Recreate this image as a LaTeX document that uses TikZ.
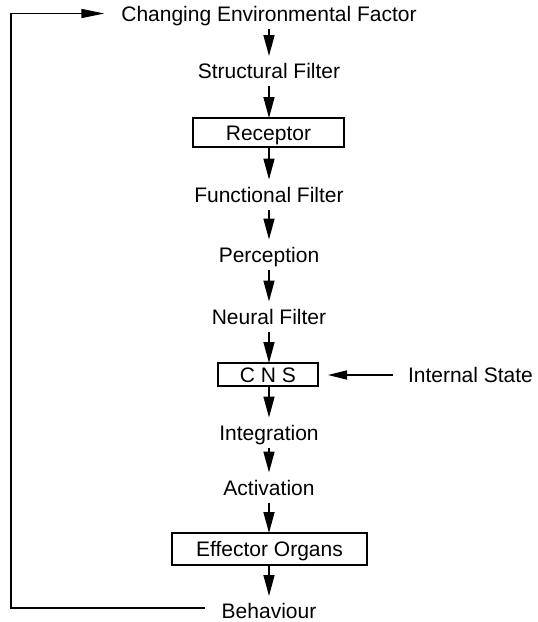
\documentclass[tikz,border=0pt]{standalone}
\usepackage{fontspec}
\setmainfont{Liberation Sans}
\usetikzlibrary{arrows.meta,calc}
\begin{document}
\begin{tikzpicture}[x=1pt,y=-1pt,
  lbl/.style={inner sep=0pt, outer xsep=0pt, outer ysep=7.5pt, text height=15pt, text depth=0pt,
    font=\fontsize{21}{25}\selectfont},
  boxnode/.style={draw, line width=1.5pt, inner sep=0pt, outer sep=0pt, text height=15pt, text depth=0pt,
    font=\fontsize{21}{25}\selectfont},
  arr/.style={line width=1.5pt, -{Triangle[length=21pt,width=11pt]}},
  harr/.style={line width=1.5pt, -{Triangle[length=19pt,width=9pt]}},
  farr/.style={line width=1.5pt, -{Triangle[length=23pt,width=9pt]}}
]
\useasboundingbox (0,0) rectangle (538,622);

\node[lbl] (cef) at (269,13.5) {Changing Environmental Factor};
\node[lbl] (sf)  at (269,71)   {Structural Filter};
\node[boxnode, minimum width=151pt, minimum height=29pt] (rec) at (268.5,132.5) {Receptor};
\node[lbl] (ff)  at (269,194.5) {Functional Filter};
\node[lbl] (per) at (269,254.5) {Perception};
\node[lbl] (nf)  at (269,316.5) {Neural Filter};
\node[boxnode, minimum width=100pt, minimum height=23pt] (cns) at (268,374.5) {C N S};
\node[lbl, anchor=west] (is) at (408,375) {Internal State};
\node[lbl] (int) at (269,432.5) {Integration};
\node[lbl] (act) at (269,487.5) {Activation};
\node[boxnode, minimum width=195pt, minimum height=32pt] (eff) at (269.5,549) {Effector Organs};
\node[lbl] (beh) at (269,611) {Behaviour};

\draw[arr] (cef) -- (sf);
\draw[arr] (sf) -- (rec.north -| sf);
\draw[arr] (rec.south -| ff) -- (ff);
\draw[arr] (ff) -- (per);
\draw[arr] (per) -- (nf);
\draw[arr] (nf) -- (cns.north -| nf);
\draw[arr] (cns.south -| int) -- (int);
\draw[arr] (int) -- (act);
\draw[arr] (act) -- (eff.north -| act);
\draw[arr] (eff.south -| beh) -- (beh);

\draw[harr, shorten <=15pt, shorten >=10pt] (is.west) -- (cns.east |- is.west);

\coordinate (fbstart) at ([shift={(-17pt,3pt)}]beh.west);
\coordinate (fbcorner1) at (11,608);
\coordinate (fbcorner2) at (11,13.5);
\draw[farr, line join=miter] (fbstart) -- (fbcorner1) -- (fbcorner2) -- ([xshift=-17pt]cef.west);
\end{tikzpicture}
\end{document}
